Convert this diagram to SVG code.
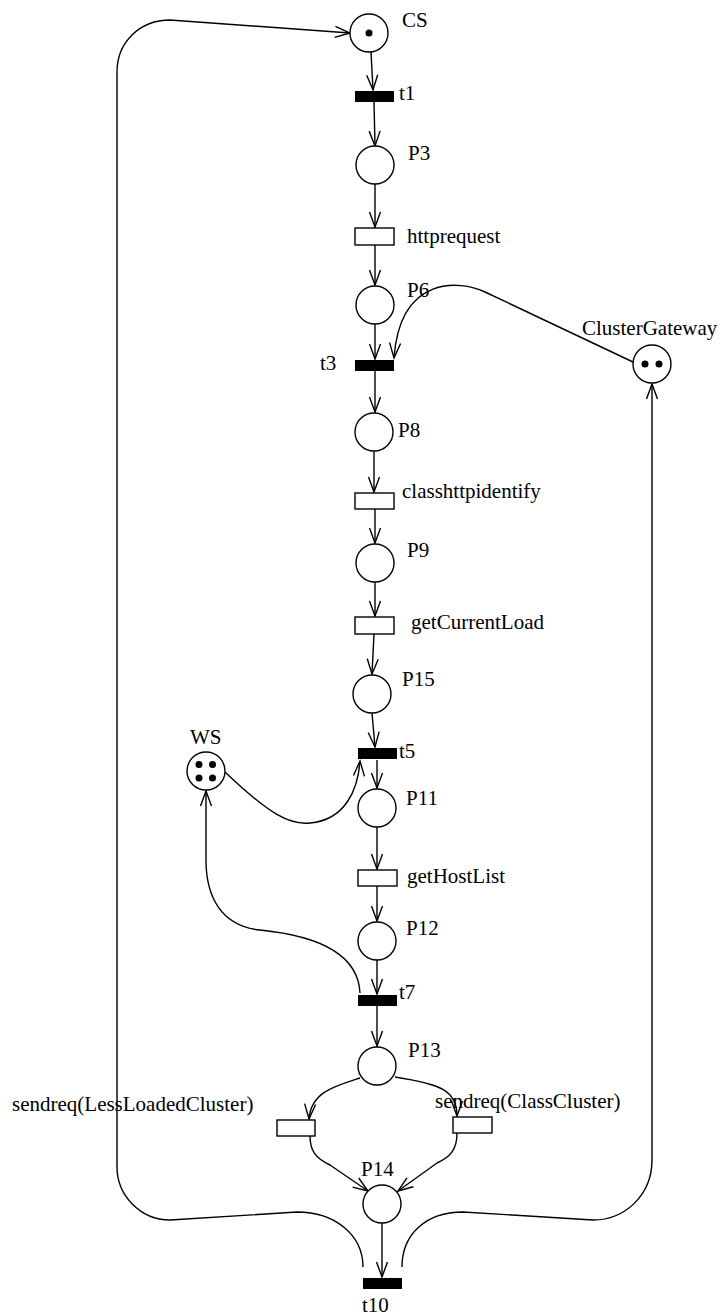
<svg xmlns="http://www.w3.org/2000/svg" width="722" height="1316" viewBox="0 0 722 1316">
<style>
.pl{fill:#fff;stroke:#000;stroke-width:1.4}
.tk{fill:#000}
.tb{fill:#000}
.tw{fill:#fff;stroke:#000;stroke-width:1.4}
.lb{font-family:"Liberation Serif","Times New Roman",serif;font-size:21px;fill:#000}
.ar{fill:none;stroke:#000;stroke-width:1.4;marker-end:url(#ah)}
.ln{fill:none;stroke:#000;stroke-width:1.4}
</style>
<defs>
<marker id="ah" markerUnits="userSpaceOnUse" markerWidth="20" markerHeight="16" viewBox="-16 -8 18 16" refX="0" refY="0" orient="auto">
<path d="M-15,-5.5 L0,0 L-15,5.5" fill="none" stroke="#000" stroke-width="1.4"/>
</marker>
</defs>
<rect width="722" height="1316" fill="#fff"/>
<g id="connectors">
<path class="ar" d="M371,52 L373,90"/>
<path class="ar" d="M374,102 L375,146"/>
<path class="ar" d="M375,184 L375,227"/>
<path class="ar" d="M375,245 L375,285"/>
<path class="ar" d="M375,324 L375,359"/>
<path class="ar" d="M633,362 L485,292 C460,280 400,275 394,358"/>
<path class="ar" d="M375,371 L375,412"/>
<path class="ar" d="M374,451 L374,492"/>
<path class="ar" d="M375,509 L375,543"/>
<path class="ar" d="M375,582 L375,616"/>
<path class="ar" d="M374,634 L372,674"/>
<path class="ar" d="M372,713 L375,747"/>
<path class="ar" d="M225,772 C270,815 290,825 310,823 C345,820 358,790 360,761"/>
<path class="ar" d="M377,760 L377,788"/>
<path class="ar" d="M377,827 L377,869"/>
<path class="ar" d="M377,886 L377,921"/>
<path class="ar" d="M377,960 L377,994"/>
<path class="ar" d="M360,993 C358,950 310,935 260,930 C220,926 206,895 206,860 L206,791"/>
<path class="ar" d="M377,1006 L377,1046"/>
<path class="ar" d="M360,1078 C335,1086 311,1092 309,1119"/>
<path class="ar" d="M395,1077 C440,1084 457,1090 457,1116"/>
<path class="ar" d="M310,1136 C310,1150 315,1158 330,1165 L368,1191"/>
<path class="ar" d="M457,1133 C457,1150 450,1157 437,1163 L398,1191"/>
<path class="ar" d="M382,1223 L382,1277"/>
<path class="ar" d="M363,1267 C363,1235 335,1212 297,1212 L170,1220 C140,1220 117,1195 117,1167 L117,72 C117,42 140,20 170,20 L350,33"/>
<path class="ar" d="M402,1267 C402,1235 425,1212 463,1212 L593,1220 C625,1220 652,1195 652,1160 L652,384"/>
</g>
<g id="CS"><circle class="pl" cx="369" cy="33" r="19"/><circle class="tk" cx="369" cy="33" r="3.5"/><text class="lb" x="402" y="27">CS</text></g>
<g id="t1"><rect class="tb" x="355" y="91" width="39" height="11"/><text class="lb" x="399" y="100">t1</text></g>
<g id="P3"><circle class="pl" cx="375" cy="165" r="19"/><text class="lb" x="408" y="160">P3</text></g>
<g id="httprequest"><rect class="tw" x="355" y="228" width="39" height="17"/><text class="lb" x="407" y="243">httprequest</text></g>
<g id="P6"><circle class="pl" cx="375" cy="305" r="19"/><text class="lb" x="407" y="297">P6</text></g>
<g id="t3"><rect class="tb" x="355" y="360" width="39" height="11"/><text class="lb" x="320" y="370">t3</text></g>
<g id="ClusterGateway"><circle class="pl" cx="652" cy="364" r="19"/><circle class="tk" cx="645" cy="364" r="3.5"/><circle class="tk" cx="659" cy="364" r="3.5"/><text class="lb" x="582" y="335">ClusterGateway</text></g>
<g id="P8"><circle class="pl" cx="374" cy="432" r="19"/><text class="lb" x="398" y="437">P8</text></g>
<g id="classhttpidentify"><rect class="tw" x="355" y="493" width="39" height="16"/><text class="lb" x="402" y="498">classhttpidentify</text></g>
<g id="P9"><circle class="pl" cx="375" cy="563" r="19"/><text class="lb" x="407" y="557">P9</text></g>
<g id="getCurrentLoad"><rect class="tw" x="355" y="617" width="39" height="17"/><text class="lb" x="411" y="629">getCurrentLoad</text></g>
<g id="P15"><circle class="pl" cx="372" cy="694" r="19"/><text class="lb" x="402" y="686">P15</text></g>
<g id="t5"><rect class="tb" x="358" y="748" width="39" height="11"/><text class="lb" x="399" y="758">t5</text></g>
<g id="WS"><circle class="pl" cx="206" cy="771" r="19"/><circle class="tk" cx="199" cy="764.5" r="3.5"/><circle class="tk" cx="212.5" cy="764.5" r="3.5"/><circle class="tk" cx="199" cy="778" r="3.5"/><circle class="tk" cx="212.5" cy="778" r="3.5"/><text class="lb" x="190" y="744">WS</text></g>
<g id="P11"><circle class="pl" cx="377" cy="808" r="19"/><text class="lb" x="406" y="805">P11</text></g>
<g id="getHostList"><rect class="tw" x="358" y="870" width="39" height="16"/><text class="lb" x="407" y="883">getHostList</text></g>
<g id="P12"><circle class="pl" cx="377" cy="941" r="19"/><text class="lb" x="406" y="935">P12</text></g>
<g id="t7"><rect class="tb" x="358" y="995" width="39" height="11"/><text class="lb" x="399" y="999">t7</text></g>
<g id="P13"><circle class="pl" cx="377" cy="1066" r="19"/><text class="lb" x="408" y="1057">P13</text></g>
<g id="sendreqLess"><rect class="tw" x="277" y="1120" width="38" height="16"/><text class="lb" x="12" y="1111">sendreq(LessLoadedCluster)</text></g>
<g id="sendreqClass"><rect class="tw" x="453" y="1117" width="39" height="16"/><text class="lb" x="435" y="1108">sendreq(ClassCluster)</text></g>
<g id="P14"><circle class="pl" cx="382" cy="1204" r="19"/><text class="lb" x="361" y="1176">P14</text></g>
<g id="t10"><rect class="tb" x="363" y="1278" width="39" height="11"/><text class="lb" x="362" y="1312">t10</text></g>
</svg>
